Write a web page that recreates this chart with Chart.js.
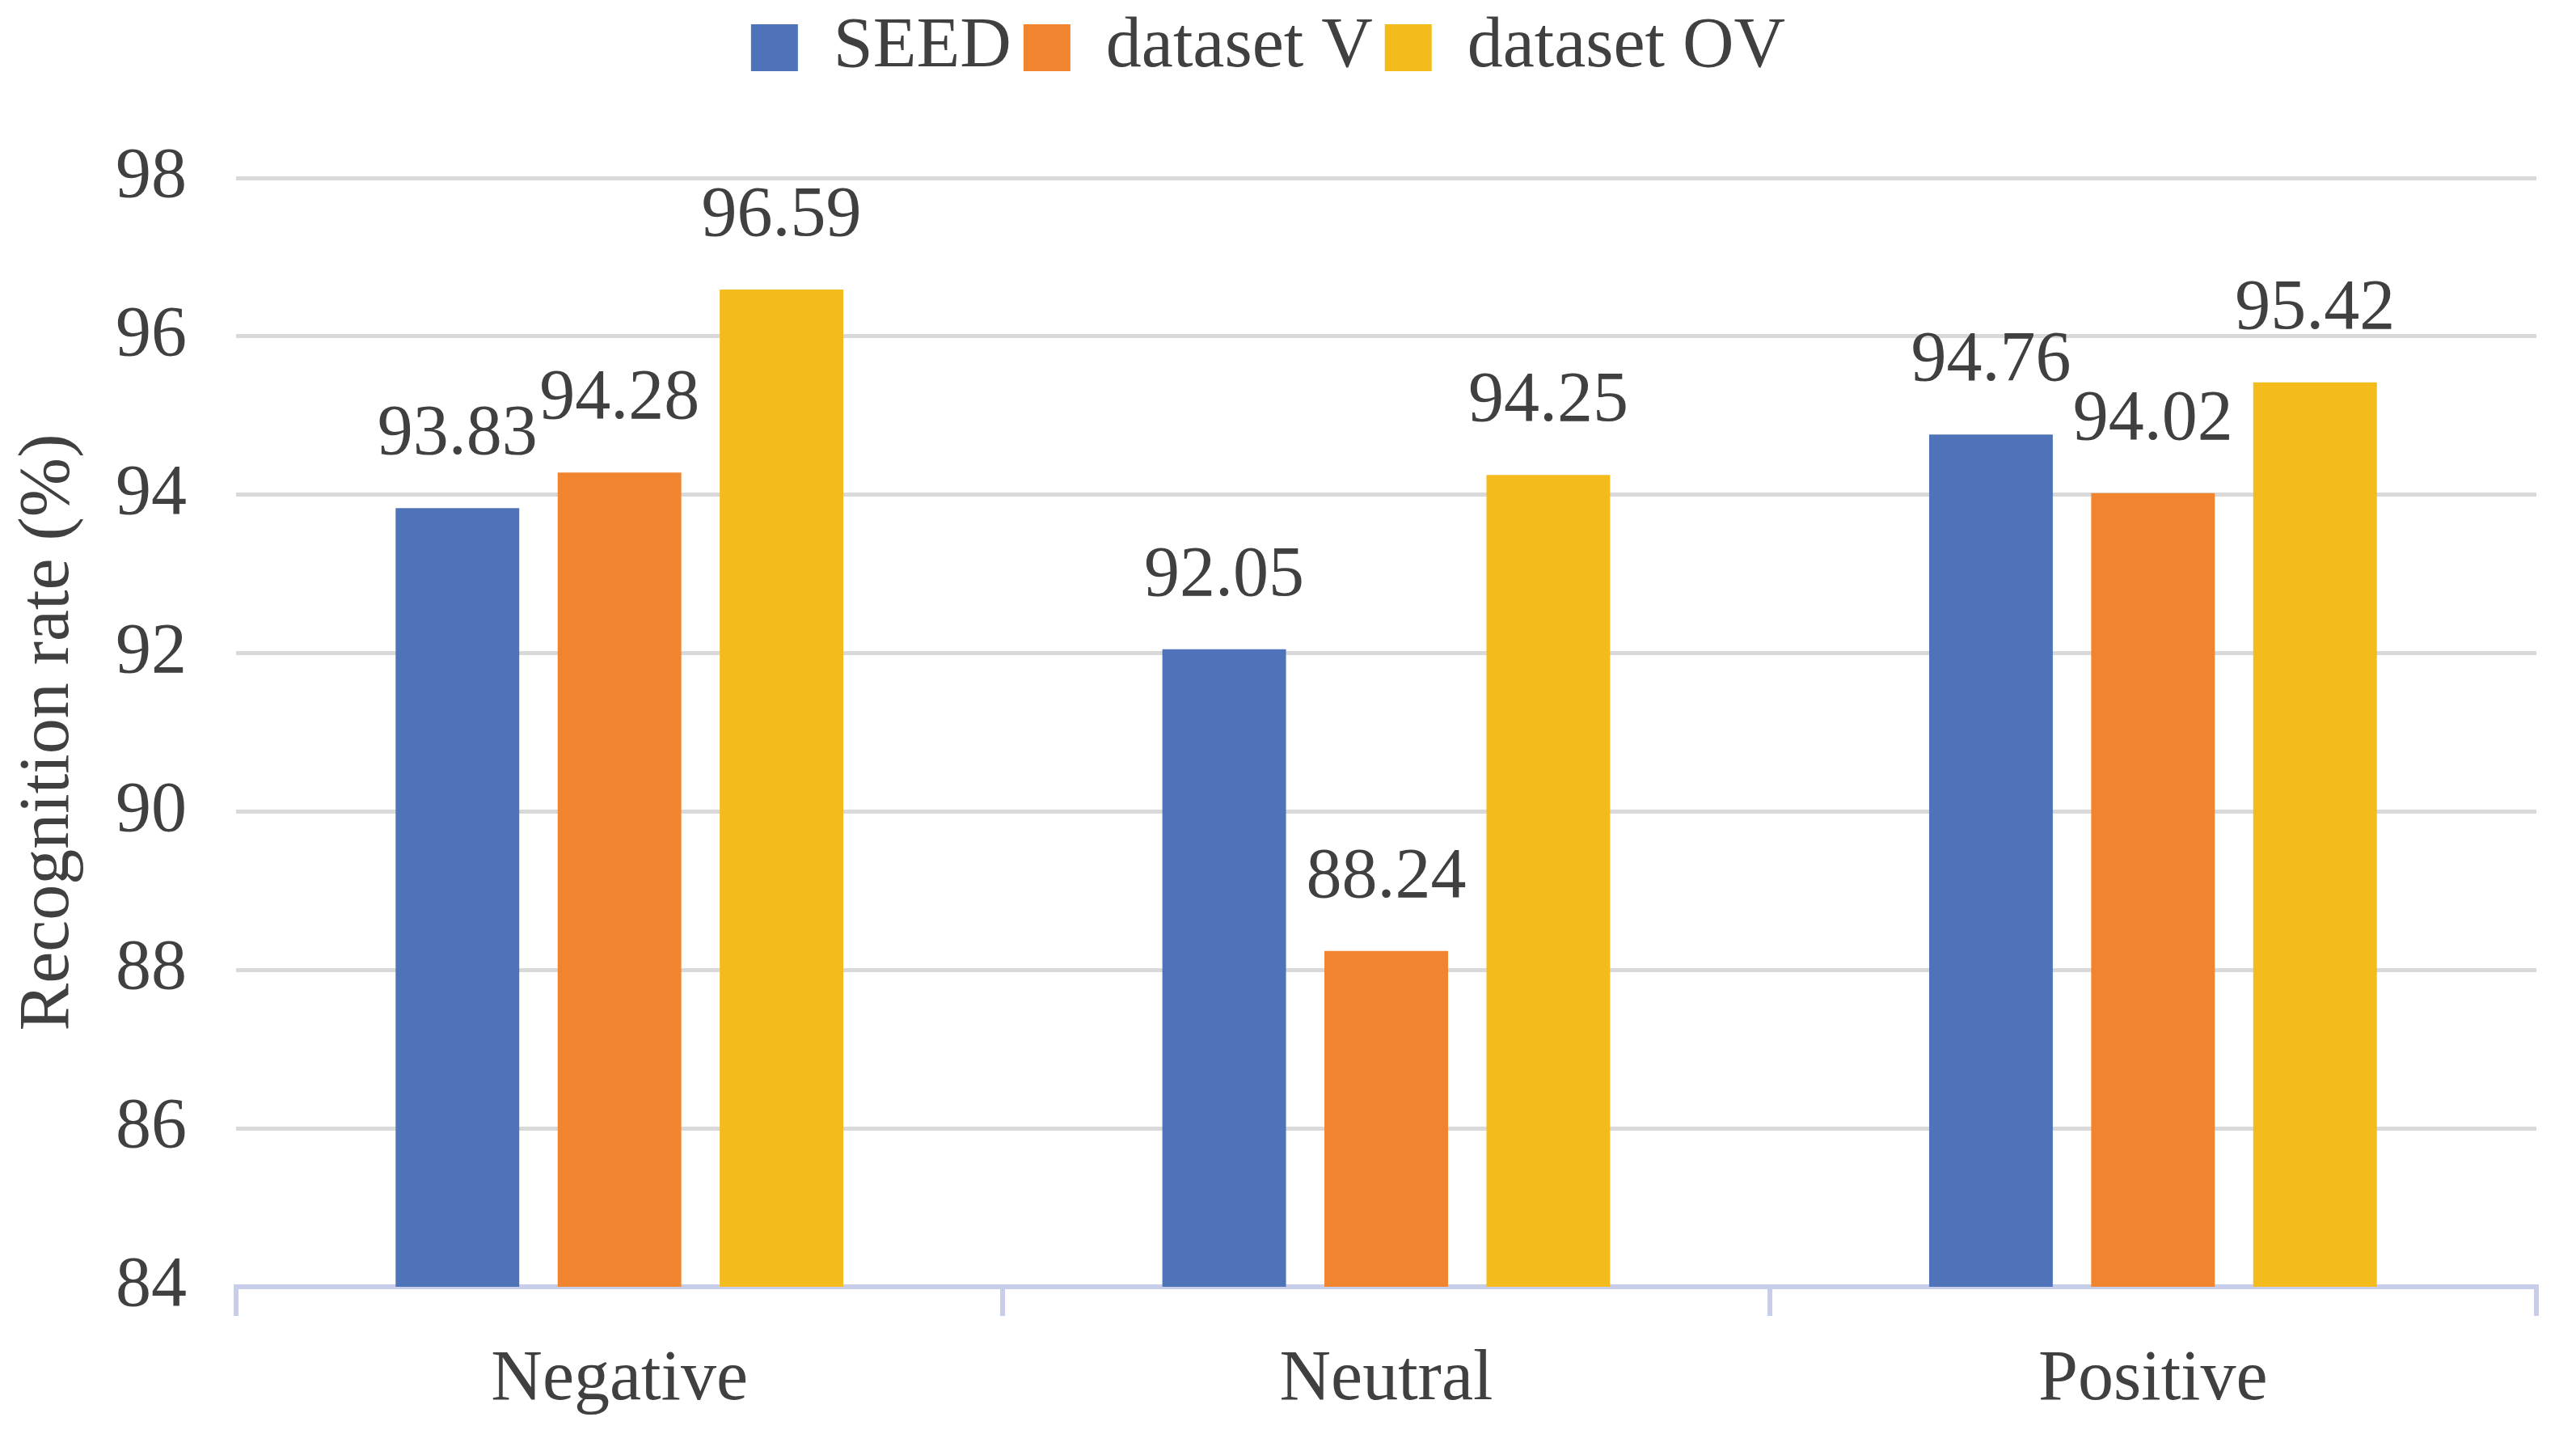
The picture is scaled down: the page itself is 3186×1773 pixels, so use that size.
<!DOCTYPE html>
<html>
<head>
<meta charset="utf-8">
<script src="https://cdn.jsdelivr.net/npm/chart.js@4.4.1/dist/chart.umd.min.js"></script>
<style>
  html, body { margin: 0; padding: 0; background: #ffffff; }
  #c { display: block; }
</style>
</head>
<body>
<canvas id="c" width="3186" height="1773" style="width:3186px;height:1773px"></canvas>
<script>
const categories = ['Negative', 'Neutral', 'Positive'];
const seriesNames = ['SEED', 'dataset V', 'dataset OV'];
const seedValues = [93.83, 92.05, 94.76];
const datasetVValues = [94.28, 88.24, 94.02];
const datasetOVValues = [96.59, 94.25, 95.42];
const yTickMin = 84;
const yTickMax = 98;
const yTickStep = 2;
const yAxisTitle = 'Recognition rate (%)';

const FONT = "'Liberation Serif'";
const TEXT = '#404040';
const colors = ['#4E73B8', '#F0842F', '#F3BB1B'];
const AXIS_COLOR = '#C8CEEA';
const GRID_COLOR = '#D9D9D9';
const LEGEND_H = 220;

Chart.defaults.font.family = FONT;

const legendHeight = {
  id: 'legendHeight',
  beforeUpdate(chart) {
    const lg = chart.legend;
    if (lg && !lg._fitPatched) {
      const orig = lg.fit;
      lg.fit = function () { orig.call(this); this.height = LEGEND_H; };
      lg._fitPatched = true;
    }
  }
};

const valueLabels = {
  id: 'valueLabels',
  afterDatasetsDraw(chart) {
    const ctx = chart.ctx;
    ctx.save();
    ctx.font = '88px ' + FONT;
    ctx.fillStyle = TEXT;
    ctx.textAlign = 'center';
    ctx.textBaseline = 'alphabetic';
    chart.data.datasets.forEach((ds, i) => {
      const meta = chart.getDatasetMeta(i);
      meta.data.forEach((bar, j) => {
        ctx.fillText(ds.data[j].toFixed(2), bar.x, bar.y - 67);
      });
    });
    ctx.restore();
  }
};

new Chart(document.getElementById('c'), {
  type: 'bar',
  data: {
    labels: categories,
    datasets: [
      { label: seriesNames[0], data: seedValues, backgroundColor: colors[0] },
      { label: seriesNames[1], data: datasetVValues, backgroundColor: colors[1] },
      { label: seriesNames[2], data: datasetOVValues, backgroundColor: colors[2] }
    ]
  },
  options: {
    responsive: false,
    devicePixelRatio: 1,
    animation: false,
    layout: { padding: { top: 0, right: 49, bottom: 0, left: 0 } },
    datasets: { bar: { categoryPercentage: 0.634, barPercentage: 0.763 } },
    plugins: {
      legend: {
        position: 'top',
        align: 'center',
        labels: {
          boxWidth: 58,
          boxHeight: 58,
          padding: 15,
          color: TEXT,
          font: { family: FONT, size: 88 }
        }
      },
      tooltip: { enabled: false }
    },
    scales: {
      x: {
        grid: {
          display: true,
          drawOnChartArea: false,
          drawTicks: true,
          tickLength: 36,
          tickWidth: 6,
          color: AXIS_COLOR,
          lineWidth: 6,
          offset: true
        },
        border: { display: true, color: AXIS_COLOR, width: 6 },
        ticks: {
          color: TEXT,
          padding: 27,
          font: { family: FONT, size: 88 }
        },
        afterFit(axis) { axis.height = 182; }
      },
      y: {
        min: yTickMin,
        max: yTickMax,
        ticks: {
          stepSize: yTickStep,
          color: TEXT,
          padding: 61,
          font: { family: FONT, size: 88 }
        },
        grid: {
          color: GRID_COLOR,
          lineWidth: 5,
          drawTicks: false
        },
        border: { display: false },
        title: {
          display: true,
          text: yAxisTitle,
          color: TEXT,
          padding: { top: 8, bottom: 0 },
          font: { family: FONT, size: 88 }
        },
        afterFit(axis) { axis.width = 292; }
      }
    }
  },
  plugins: [legendHeight, valueLabels]
});
</script>
</body>
</html>
